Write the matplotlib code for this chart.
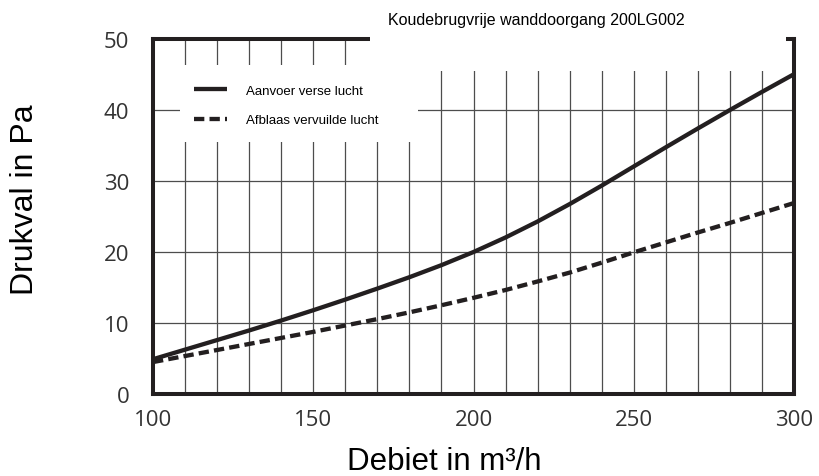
import matplotlib
matplotlib.use("Agg")
import matplotlib.pyplot as plt
from matplotlib.patches import Rectangle

# debiet (m3/h) and pressure drop (Pa)
debiet = [100, 110, 120, 130, 140, 150, 160, 170, 180, 190, 200,
          210, 220, 230, 240, 250, 260, 270, 280, 290, 300]
aanvoer = [4.9, 6.25, 7.6, 8.95, 10.35, 11.8, 13.3, 14.85, 16.45, 18.15, 20.0,
           22.05, 24.3, 26.75, 29.35, 32.05, 34.75, 37.4, 40.0, 42.55, 45.05]
afblaas = [4.5, 5.35, 6.2, 7.05, 7.9, 8.75, 9.65, 10.55, 11.5, 12.5, 13.55,
           14.65, 15.85, 17.1, 18.5, 19.95, 21.35, 22.75, 24.1, 25.5, 26.9]

x_ticks = [100, 150, 200, 250, 300]
y_ticks = [0, 10, 20, 30, 40, 50]
title = "Koudebrugvrije wanddoorgang 200LG002"
labels = ["Aanvoer verse lucht", "Afblaas vervuilde lucht"]

INK = "#231f20"
ARIAL = "Liberation Sans"

fig = plt.figure(figsize=(8.2, 4.77), dpi=100)
ax = fig.add_axes([0.1866, 0.1719, 0.7817, 0.7442])

ax.set_xlim(100, 300)
ax.set_ylim(0, 50)

# grid every 10 units in both directions
for gx in range(110, 300, 10):
    ax.axvline(gx, color="#4d4d4d", lw=0.9, zorder=1)
for gy in range(10, 50, 10):
    ax.axhline(gy, color="#4d4d4d", lw=0.9, zorder=1)

l1, = ax.plot(debiet, aanvoer, color=INK, lw=3.1, zorder=5,
              solid_capstyle="butt", solid_joinstyle="round", label=labels[0])
l2, = ax.plot(debiet, afblaas, color=INK, lw=3.1, zorder=5,
              dashes=(2.4, 1.2), label=labels[1])

for s in ax.spines.values():
    s.set_color(INK)
    s.set_linewidth(2.9)
    s.set_zorder(3)

# white cut-outs: title gap in the top border and the legend box
ax.add_patch(Rectangle((167.8, 45.5), 297.5 - 167.8, 5.8, facecolor="white",
                       edgecolor="none", zorder=4, clip_on=False))
ax.add_patch(Rectangle((108.4, 35.5), 182.8 - 108.4, 46.3 - 35.5,
                       facecolor="white", edgecolor="none", zorder=4))

leg = ax.legend(handles=[l1, l2], loc="upper left", bbox_to_anchor=(0.054, 0.89),
                frameon=False, borderpad=0, handlelength=2.5, handletextpad=1.4,
                labelspacing=1.3, prop={"family": ARIAL, "size": 9.5})
leg.set_zorder(6)

ax.set_xticks(x_ticks)
ax.set_yticks(y_ticks)
ax.tick_params(length=0, labelsize=16, labelcolor="#333333")
ax.tick_params(axis="x", pad=11)
ax.tick_params(axis="y", pad=17)
for t in ax.get_xticklabels() + ax.get_yticklabels():
    t.set_family("Open Sans")

ax.set_xlabel("Debiet in m³/h", family=ARIAL, fontsize=22.5, color="black")
ax.xaxis.set_label_coords(0.454, -0.19)
ax.xaxis.label.set_va("center")
ax.set_ylabel("Drukval in Pa", family=ARIAL, fontsize=23, color="black")
ax.yaxis.set_label_coords(-0.2, 0.549)
ax.yaxis.label.set_va("center")

fig.text(0.654, 0.958, title, family=ARIAL, fontsize=11.5, ha="center", va="center")

fig.savefig("out.png", dpi=100)
